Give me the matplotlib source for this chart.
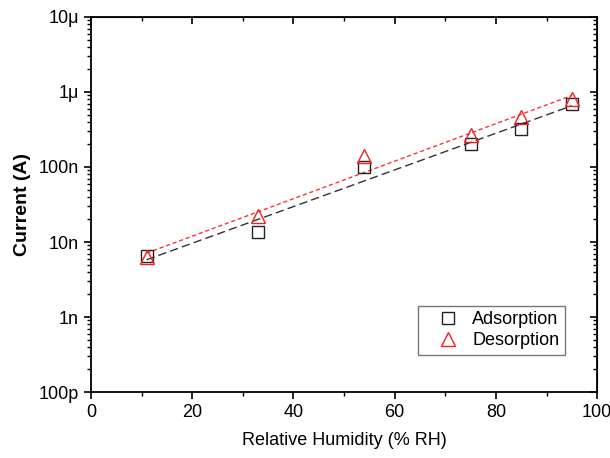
import matplotlib
matplotlib.use("Agg")
import matplotlib.pyplot as plt
from matplotlib.ticker import FixedLocator, LogLocator, NullFormatter, MultipleLocator
import numpy as np

plt.rcParams['font.family'] = ['Liberation Sans', 'DejaVu Sans']

# data
rh = [11, 33, 54, 75, 85, 95]
adsorption = [6.5e-9, 1.35e-8, 1.0e-7, 2.0e-7, 3.2e-7, 7.0e-7]
desorption = [6.3e-9, 2.2e-8, 1.4e-7, 2.7e-7, 4.6e-7, 8.1e-7]

y_ticks = [1e-10, 1e-9, 1e-8, 1e-7, 1e-6, 1e-5]
y_tick_labels = ['100p', '1n', '10n', '100n', '1\u03bc', '10\u03bc']

fig = plt.figure(figsize=(6.1, 4.58), dpi=100)
ax = fig.add_axes([0.149, 0.144, 0.830, 0.819])

# exponential fits (straight lines on log axis)
x_fit = np.linspace(min(rh), max(rh), 50)
k_a = np.polyfit(rh, np.log10(adsorption), 1)
k_d = np.polyfit(rh, np.log10(desorption), 1)
ax.plot(x_fit, 10 ** np.polyval(k_a, x_fit), color='#333333', ls=(0, (6, 3)), lw=1)
ax.plot(x_fit, 10 ** np.polyval(k_d, x_fit), color='#ff3333', ls=(0, (3, 2)), lw=1)

ax.plot(rh, adsorption, ls='none', marker='s', ms=8.5, mfc='none', mec='#222222',
        mew=1, label='Adsorption')
ax.plot(rh, desorption, ls='none', marker='^', ms=10, mfc='none', mec='#ee2222',
        mew=1, label='Desorption')

ax.set_yscale('log')
ax.set_xlim(0, 100)
ax.set_ylim(1e-10, 1e-5)
ax.yaxis.set_major_locator(FixedLocator(y_ticks))
ax.set_yticklabels(y_tick_labels)
ax.yaxis.set_minor_locator(LogLocator(base=10, subs=np.arange(2, 10)))
ax.yaxis.set_minor_formatter(NullFormatter())
ax.xaxis.set_major_locator(MultipleLocator(20))
ax.xaxis.set_minor_locator(MultipleLocator(10))

for s in ax.spines.values():
    s.set_linewidth(1.3)

ax.tick_params(which='major', direction='out', length=5, width=1.2, labelsize=13)
ax.tick_params(which='minor', direction='out', length=3, width=1)

# top and right ticks pointing inwards
top = ax.secondary_xaxis('top')
top.xaxis.set_major_locator(MultipleLocator(20))
top.xaxis.set_minor_locator(MultipleLocator(10))
top.tick_params(which='major', direction='in', length=5, width=1.2, labeltop=False)
top.tick_params(which='minor', direction='in', length=3, width=1)

right = ax.secondary_yaxis('right')
right.yaxis.set_major_locator(FixedLocator(y_ticks))
right.yaxis.set_minor_locator(LogLocator(base=10, subs=np.arange(2, 10)))
right.yaxis.set_minor_formatter(NullFormatter())
right.tick_params(which='major', direction='in', length=5, width=1.2, labelright=False)
right.tick_params(which='minor', direction='in', length=3, width=1)

ax.set_xlabel('Relative Humidity (% RH)', fontsize=13, labelpad=8)
ax.set_ylabel('Current (A)', fontsize=14, fontweight='bold', labelpad=6)

leg = ax.legend(loc='lower right', bbox_to_anchor=(0.954, 0.076), fontsize=13,
                fancybox=False, edgecolor='#555555', handletextpad=0.0,
                borderpad=0.3, labelspacing=0.2, handlelength=2.7)
leg.get_frame().set_linewidth(1)

fig.savefig('out.png', dpi=100)
